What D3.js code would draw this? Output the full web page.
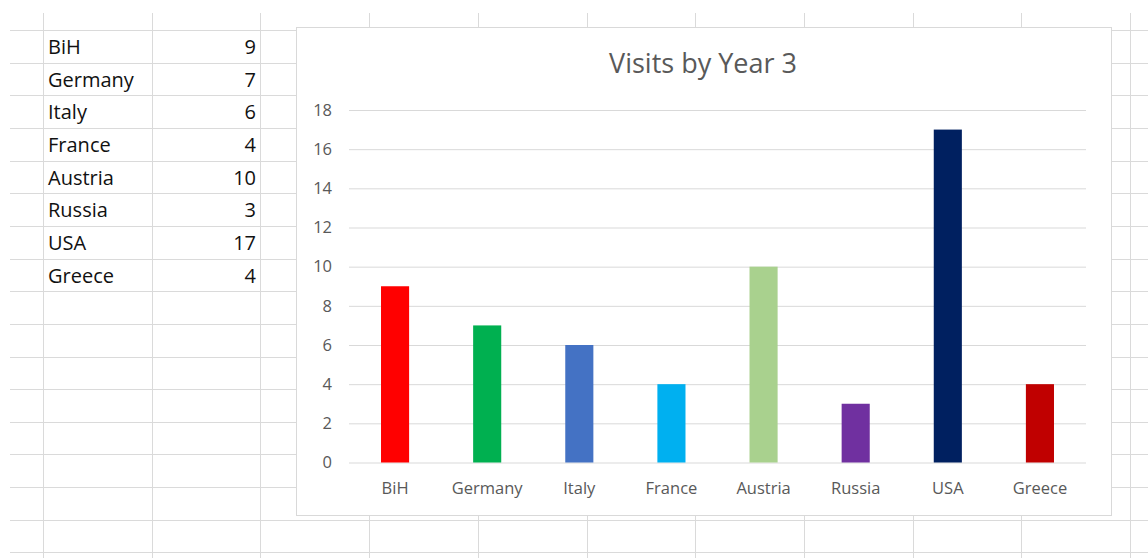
<!DOCTYPE html>
<meta charset="utf-8">
<style>
body { margin: 0; background: #fff; }
text { font-family: "Open Sans", sans-serif; }
.grid line { stroke: #dadada; stroke-width: 1; }
.cell { font-size: 20px; fill: #111; }
.tick text { font-size: 16.5px; fill: #595959; }
.title { font-size: 27px; fill: #595959; }
</style>
<svg width="1148" height="558"></svg>
<script src="https://d3js.org/d3.v7.min.js"></script>
<script>

var countries = ["BiH", "Germany", "Italy", "France", "Austria", "Russia", "USA", "Greece"];
var visits = [9, 7, 6, 4, 10, 3, 17, 4];
var colors = ["#ff0000", "#00b050", "#4472c4", "#00b0f0", "#a9d18e", "#7030a0", "#002060", "#c00000"];
var yTicks = [0, 2, 4, 6, 8, 10, 12, 14, 16, 18];
var title = "Visits by Year 3";

var svg = d3.select("svg"),
    width = +svg.attr("width"),
    height = +svg.attr("height");

// spreadsheet grid
var colW = 108.7, rowH = 32.65;
var colX = d3.range(11).map(function(i) { return 43 + i * colW; });
var rowY = d3.range(17).map(function(i) { return 30 + i * rowH; });

var grid = svg.append("g").attr("class", "grid");
grid.selectAll(".v").data(colX).enter().append("line")
    .attr("x1", function(d) { return Math.round(d) + 0.5; })
    .attr("x2", function(d) { return Math.round(d) + 0.5; })
    .attr("y1", 13).attr("y2", height);
grid.selectAll(".h").data(rowY).enter().append("line")
    .attr("x1", 10).attr("x2", width)
    .attr("y1", function(d) { return Math.round(d) + 0.5; })
    .attr("y2", function(d) { return Math.round(d) + 0.5; });

// table cells
var rows = svg.append("g").selectAll("g")
    .data(countries)
    .enter().append("g");
rows.append("text")
    .attr("class", "cell")
    .attr("x", 48)
    .attr("y", function(d, i) { return rowY[i] + 24; })
    .text(function(d) { return d; });
rows.append("text")
    .attr("class", "cell")
    .attr("x", 256)
    .attr("text-anchor", "end")
    .attr("y", function(d, i) { return rowY[i] + 24; })
    .text(function(d, i) { return visits[i]; });

// chart box
var box = { x: 296, y: 27, w: 815, h: 488 };
svg.append("rect")
    .attr("x", box.x + 0.5).attr("y", box.y + 0.5)
    .attr("width", box.w).attr("height", box.h)
    .attr("fill", "#fff")
    .attr("stroke", "#d9d9d9");

svg.append("text")
    .attr("class", "title")
    .attr("x", 703)
    .attr("y", 73)
    .attr("text-anchor", "middle")
    .text(title);

var plot = { left: 349, right: 1086, top: 110, bottom: 462.5 };

var x = d3.scaleBand()
    .domain(countries)
    .range([plot.left, plot.right]);

var y = d3.scaleLinear()
    .domain([0, 18])
    .range([plot.bottom, plot.top]);

var yAxis = svg.append("g")
    .attr("transform", "translate(" + plot.left + ",0)")
    .call(d3.axisLeft(y).tickValues(yTicks).tickSize(-(plot.right - plot.left)).tickPadding(17));
yAxis.select(".domain").remove();
yAxis.selectAll(".tick line").attr("stroke", "#d9d9d9");

var xAxis = svg.append("g")
    .attr("transform", "translate(0," + plot.bottom + ")")
    .call(d3.axisBottom(x).tickSize(0).tickPadding(20));
xAxis.select(".domain").remove();

var barW = x.bandwidth() * 0.305;
svg.append("g").selectAll("rect")
    .data(visits)
    .enter().append("rect")
    .attr("x", function(d, i) { return x(countries[i]) + x.bandwidth() / 2 - barW / 2; })
    .attr("y", function(d) { return y(d); })
    .attr("width", barW)
    .attr("height", function(d) { return y(0) - y(d); })
    .attr("fill", function(d, i) { return colors[i]; });

</script>
